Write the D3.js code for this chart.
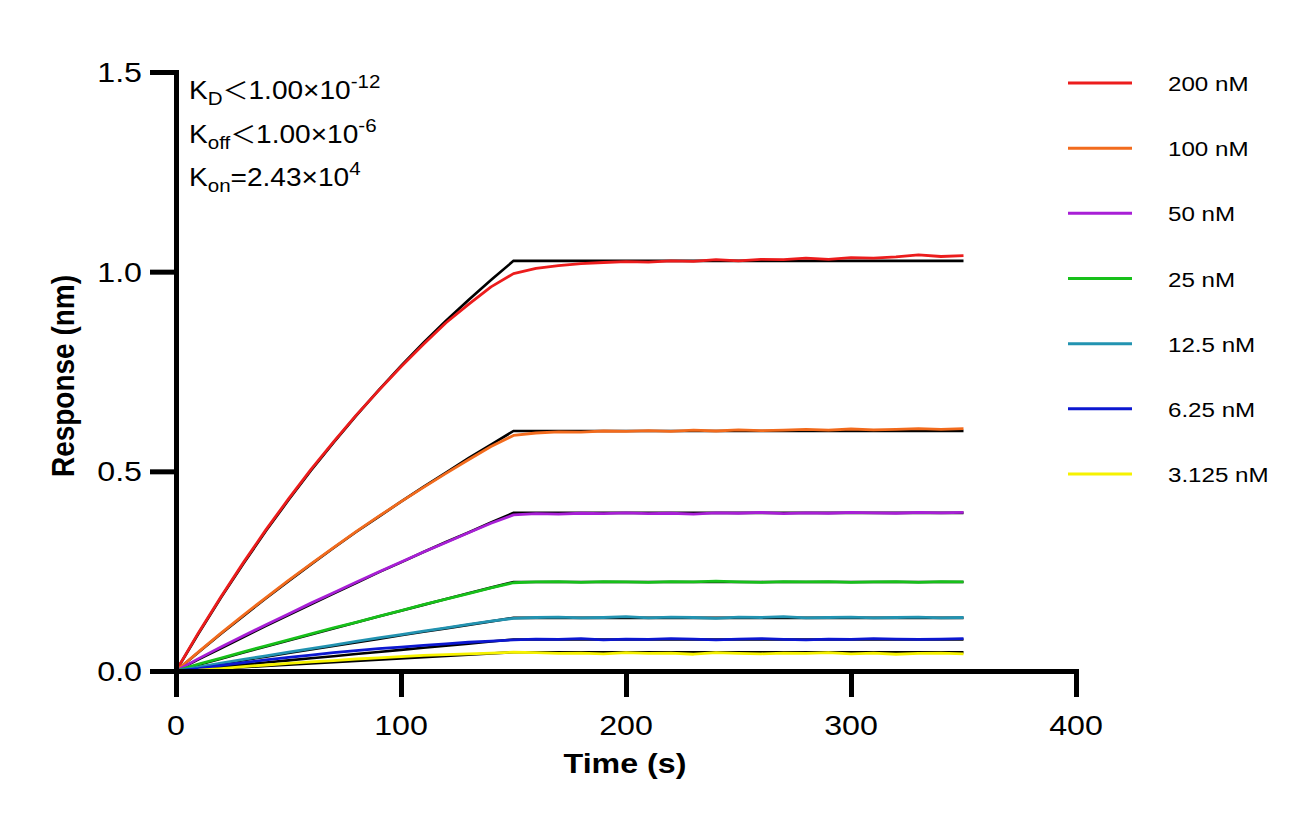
<!DOCTYPE html>
<html><head><meta charset="utf-8">
<script src="https://cdn.jsdelivr.net/npm/d3@7/dist/d3.min.js"></script>
<style>
body{margin:0;background:#fff;}
text{font-family:Arial,"Liberation Sans",Helvetica,sans-serif;fill:#000;}
</style></head>
<body><svg id="chart" width="1316" height="825"></svg>
<script>
const seriesNames = ["200 nM","100 nM","50 nM","25 nM","12.5 nM","6.25 nM","3.125 nM"];
const seriesColors = ["#ec1c1c","#f26b1d","#a81fd6","#17c01a","#2293b1","#0c17d0","#f6f200"];
const dataTimes = [0,10,20,30,40,50,60,70,80,90,100,110,120,130,140,150,160,170,180,190,200,210,220,230,240,250,260,270,280,290,300,310,320,330,340,350];
const resp200 = [0,0.096,0.186,0.272,0.354,0.431,0.505,0.574,0.640,0.702,0.762,0.818,0.872,0.918,0.962,0.995,1.008,1.015,1.020,1.023,1.025,1.024,1.027,1.026,1.030,1.027,1.031,1.030,1.034,1.031,1.035,1.034,1.037,1.042,1.038,1.040];
const resp100 = [0,0.048,0.095,0.140,0.184,0.227,0.268,0.309,0.349,0.387,0.424,0.460,0.495,0.529,0.562,0.590,0.596,0.599,0.598,0.601,0.600,0.602,0.600,0.603,0.601,0.604,0.602,0.603,0.605,0.603,0.606,0.604,0.605,0.607,0.605,0.607];
const resp50 = [0,0.031,0.060,0.088,0.116,0.143,0.170,0.196,0.222,0.248,0.273,0.298,0.322,0.346,0.370,0.391,0.394,0.393,0.395,0.394,0.396,0.394,0.395,0.393,0.396,0.395,0.397,0.394,0.396,0.395,0.397,0.396,0.395,0.397,0.396,0.397];
const resp25 = [0,0.017,0.032,0.048,0.063,0.078,0.093,0.108,0.122,0.137,0.151,0.166,0.180,0.194,0.208,0.221,0.223,0.224,0.222,0.224,0.223,0.222,0.224,0.223,0.225,0.223,0.222,0.224,0.223,0.224,0.222,0.223,0.224,0.222,0.224,0.223];
const resp12_5 = [0,0.010,0.020,0.029,0.038,0.047,0.056,0.065,0.074,0.083,0.091,0.100,0.108,0.117,0.125,0.132,0.134,0.135,0.133,0.134,0.136,0.133,0.135,0.134,0.132,0.135,0.134,0.136,0.133,0.134,0.135,0.133,0.134,0.135,0.133,0.134];
const resp6_25 = [0,0.006,0.014,0.021,0.028,0.034,0.040,0.046,0.051,0.056,0.060,0.064,0.068,0.072,0.075,0.078,0.080,0.079,0.081,0.078,0.080,0.079,0.081,0.080,0.078,0.080,0.081,0.079,0.078,0.080,0.079,0.081,0.080,0.079,0.080,0.081];
const resp3_125 = [0,0.002,0.006,0.011,0.015,0.019,0.023,0.026,0.030,0.033,0.036,0.039,0.041,0.043,0.045,0.047,0.046,0.044,0.045,0.043,0.046,0.044,0.045,0.042,0.046,0.044,0.043,0.045,0.044,0.046,0.043,0.045,0.042,0.044,0.045,0.043];
const fitTimes = [0,10,20,30,40,50,60,70,80,90,100,110,120,130,140,150,350];
const fit200 = [0,0.094,0.184,0.269,0.351,0.428,0.502,0.572,0.639,0.703,0.764,0.822,0.877,0.929,0.979,1.027,1.027];
const fit100 = [0,0.047,0.093,0.138,0.182,0.225,0.267,0.308,0.348,0.386,0.424,0.461,0.497,0.533,0.567,0.601,0.601];
const fit50 = [0,0.029,0.057,0.085,0.113,0.140,0.167,0.194,0.220,0.247,0.272,0.298,0.323,0.347,0.372,0.396,0.396];
const fit25 = [0,0.0155,0.0309,0.0463,0.0615,0.0766,0.0916,0.1066,0.1215,0.1363,0.151,0.1656,0.1801,0.1945,0.2088,0.223,0.223];
const fit12_5 = [0,0.0091,0.0181,0.027,0.036,0.045,0.0539,0.0628,0.0716,0.0804,0.0893,0.0981,0.1068,0.1155,0.1242,0.133,0.133];
const fit6_25 = [0,0.0053,0.0106,0.0159,0.0212,0.0265,0.0318,0.0371,0.0424,0.0476,0.0529,0.0581,0.0634,0.0686,0.0738,0.079,0.079];
const fit3_125 = [0,0.0032,0.0063,0.0095,0.0126,0.0158,0.0189,0.022,0.0252,0.0283,0.0314,0.0345,0.0376,0.0408,0.0439,0.047,0.047];
const xTicks = [0,100,200,300,400];
const yTicks = [0,0.5,1.0,1.5];
const yTickLabels = ["0.0","0.5","1.0","1.5"];

const responses = [resp200,resp100,resp50,resp25,resp12_5,resp6_25,resp3_125];
const fits = [fit200,fit100,fit50,fit25,fit12_5,fit6_25,fit3_125];

const svg = d3.select("#chart");
const x = d3.scaleLinear().domain([0,400]).range([176,1076]);
const y = d3.scaleLinear().domain([0,1.5]).range([671,72]);
const SX = 1.15;

const line = d3.line().x(d=>x(d[0])).y(d=>y(d[1]));

fits.forEach(f=>{
  svg.append("path").datum(fitTimes.map((t,i)=>[t,f[i]]))
    .attr("d",line).attr("fill","none").attr("stroke","#000").attr("stroke-width",2.6);
});
responses.forEach((r,k)=>{
  svg.append("path").datum(dataTimes.map((t,i)=>[t,r[i]]))
    .attr("d",line).attr("fill","none").attr("stroke",seriesColors[k])
    .attr("stroke-width",2.8).attr("stroke-linejoin","round");
});

const xAxis = svg.append("g").attr("transform","translate(0,671)")
  .call(d3.axisBottom(x).tickValues(xTicks).tickSize(26).tickSizeOuter(0).tickFormat(d3.format("d")));
const yAxis = svg.append("g").attr("transform","translate(176,0)")
  .call(d3.axisLeft(y).tickValues(yTicks).tickSize(26).tickSizeOuter(0).tickFormat((d,i)=>yTickLabels[i]));
[xAxis,yAxis].forEach(a=>{
  a.select(".domain").attr("stroke","#000").attr("stroke-width",5).attr("stroke-linecap","square");
  a.selectAll(".tick line").attr("stroke","#000").attr("stroke-width",5);
  a.selectAll(".tick text").remove();
});
xTicks.forEach(v=>{
  svg.append("text").attr("transform",`translate(${x(v)},735) scale(${SX},1)`)
    .attr("text-anchor","middle").attr("font-size",28).text(d3.format("d")(v));
});
yTicks.forEach((v,i)=>{
  svg.append("text").attr("transform",`translate(142,${y(v)+10}) scale(${SX},1)`)
    .attr("text-anchor","end").attr("font-size",28).text(yTickLabels[i]);
});

svg.append("text").attr("transform",`translate(625,773) scale(${SX},1)`)
  .attr("text-anchor","middle").attr("font-size",28).attr("font-weight","bold").text("Time (s)");
svg.append("text").attr("transform",`translate(74,376) rotate(-90) scale(1,${SX})`)
  .attr("text-anchor","middle").attr("font-size",28).attr("font-weight","bold").text("Response (nm)");

const ann = [
  {base:"K", sub:"D", op:"＜", rest:"1.00×10", sup:"-12"},
  {base:"K", sub:"off", op:"＜", rest:"1.00×10", sup:"-6"},
  {base:"K", sub:"on", op:"=", rest:"2.43×10", sup:"4"}
];
const annBase = [99,143,186];
ann.forEach((a,i)=>{
  const t = svg.append("text").attr("transform",`translate(189,${annBase[i]}) scale(1.08,1)`).attr("font-size",26);
  t.append("tspan").text(a.base);
  t.append("tspan").attr("font-size",19).attr("dy",6).text(a.sub);
  const op = t.append("tspan").attr("dy",-6).text(a.op);
  if (a.op === "＜") op.attr("font-family","'Noto Sans CJK SC','Noto Sans CJK JP',sans-serif").attr("font-size",24);
  t.append("tspan").text(a.rest);
  t.append("tspan").attr("font-size",19).attr("dy",-11).text(a.sup);
});

const legendY = d3.scaleLinear().domain([0,seriesNames.length-1]).range([83,474]);
seriesNames.forEach((n,i)=>{
  svg.append("line").attr("x1",1068).attr("x2",1132).attr("y1",legendY(i)).attr("y2",legendY(i))
    .attr("stroke",seriesColors[i]).attr("stroke-width",3);
  svg.append("text").attr("transform",`translate(1168,${legendY(i)+8}) scale(${SX},1)`)
    .attr("font-size",21).text(n);
});
</script></body></html>
